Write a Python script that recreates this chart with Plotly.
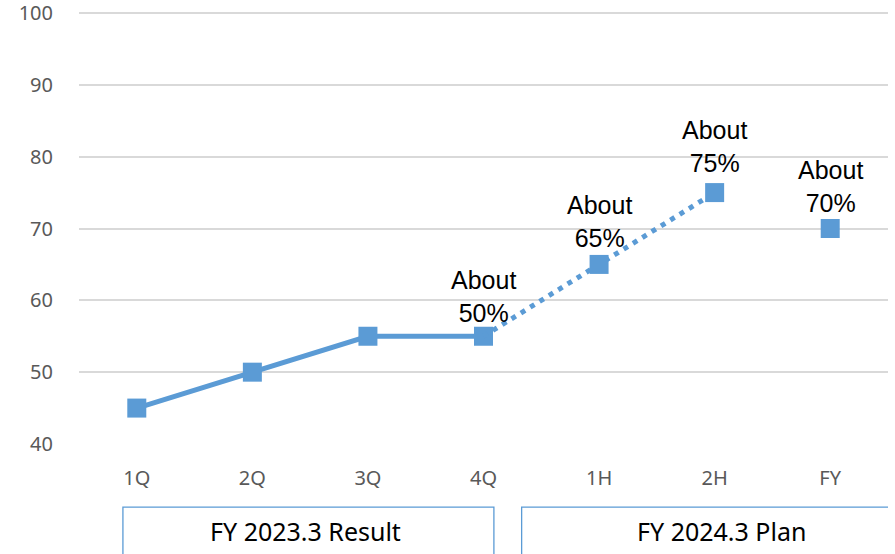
import plotly.graph_objects as go

# Quarterly / half-year ratio (%)
categories = ["1Q", "2Q", "3Q", "4Q", "1H", "2H", "FY"]
result_values = [45, 50, 55, 55]          # FY 2023.3 actuals, 1Q-4Q
plan_path_cats = ["4Q", "1H", "2H"]        # dotted bridge into the plan
plan_path_values = [55, 65, 75]
plan_full_cat = ["FY"]
plan_full_value = [70]
labelled_cats = ["4Q", "1H", "2H", "FY"]
labelled_values = [50, 65, 75, 70]
label_marker_values = [55, 65, 75, 70]
group_names = ["FY 2023.3 Result", "FY 2024.3 Plan"]
y_ticks = [40, 50, 60, 70, 80, 90, 100]

BLUE = "#5B9BD5"
idx = {c: i for i, c in enumerate(categories)}

fig = go.Figure()

# Solid line for results
fig.add_trace(go.Scatter(
    x=[idx[c] for c in categories[:4]], y=result_values,
    mode="lines+markers",
    line=dict(color=BLUE, width=5),
    marker=dict(symbol="square", size=19, color=BLUE),
    hoverinfo="skip", showlegend=False,
))

# Dotted line for plan
fig.add_trace(go.Scatter(
    x=[idx[c] for c in plan_path_cats], y=plan_path_values,
    mode="lines",
    line=dict(color=BLUE, width=5, dash="5px,6px"),
    hoverinfo="skip", showlegend=False,
))
fig.add_trace(go.Scatter(
    x=[idx[c] for c in plan_path_cats[1:]] + [idx[c] for c in plan_full_cat],
    y=plan_path_values[1:] + plan_full_value,
    mode="markers",
    marker=dict(symbol="square", size=19, color=BLUE),
    hoverinfo="skip", showlegend=False,
))

# "About xx%" labels
shifts = [7, 10, 14, 10]
for c, v, my, s in zip(labelled_cats, labelled_values, label_marker_values, shifts):
    fig.add_annotation(
        x=idx[c], y=my, xref="x", yref="y",
        text=f"About<br>{v}%", showarrow=False,
        yanchor="bottom", yshift=s,
        font=dict(family="Liberation Sans, Arial", size=25, color="#000000"),
    )

# Group boxes under the axis
box_spans = [(-0.12, 3.09), (3.33, 6.8)]
text_centers = [1.46, 5.06]
for (x0, x1), xc, name in zip(box_spans, text_centers, group_names):
    fig.add_shape(
        type="rect", xref="x", yref="paper",
        x0=x0, x1=x1, y0=-0.146, y1=-0.35,
        line=dict(color=BLUE, width=1.3), fillcolor="rgba(0,0,0,0)",
    )
    fig.add_annotation(
        x=xc, y=-0.202, xref="x", yref="paper",
        xanchor="center", yanchor="middle",
        text=name, showarrow=False,
        font=dict(family="Noto Sans", size=25, color="#000000"),
    )

fig.update_layout(
    width=895, height=554,
    margin=dict(l=79, r=7, t=12, b=110),
    plot_bgcolor="white", paper_bgcolor="white",
    xaxis=dict(
        range=[-0.5, 6.5], tickmode="array",
        tickvals=list(range(len(categories))), ticktext=categories,
        showgrid=False, zeroline=False, showline=False, ticks="",
        ticklabelstandoff=20, automargin=False,
        tickfont=dict(family="Noto Sans", size=20, color="#595959"),
    ),
    yaxis=dict(
        range=[40, 100.14], tickvals=y_ticks,
        showgrid=True, gridcolor="#D9D9D9", gridwidth=1.5,
        zeroline=False, showline=False, ticks="",
        ticklabelstandoff=25, ticklabeloverflow="allow", automargin=False,
        tickfont=dict(family="Noto Sans", size=20, color="#595959"),
    ),
)

fig.write_html("out.html")
